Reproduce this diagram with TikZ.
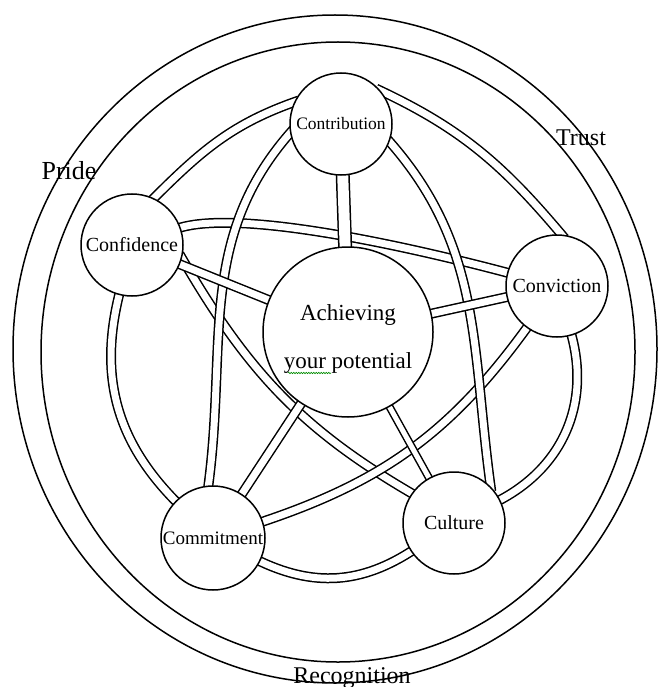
\documentclass[tikz,border=0pt]{standalone}
\usepackage{fontspec}
\setmainfont{Liberation Serif}
\usetikzlibrary{decorations.pathmorphing}
\pgfdeclarelayer{background}
\pgfsetlayers{background,main}

\begin{document}
\begin{tikzpicture}[x=1pt, y=1pt,
    ball/.style={draw, circle, fill=white, line width=1.5pt, inner sep=0pt,
        minimum size=102pt, font=\fontsize{20}{22}\selectfont},
    band/.style={draw, line width=1.5pt, double=white, double distance=7pt,
        shorten <=-5pt, shorten >=-5pt},
    wideband/.style={band, double distance=11pt},
    ringlabel/.style={anchor=base, font=\fontsize{24}{26}\selectfont}]
    \useasboundingbox (0,0) rectangle (658,-687);
    % Rings
    \draw[line width=1.5pt] (335,-349) ellipse [x radius=322, y radius=334];
    \draw[line width=1.5pt] (338,-352) ellipse [x radius=297, y radius=310];
    \node[ringlabel, font=\fontsize{26}{28}\selectfont] (pride) at (69,-179) {Pride};
    \node[ringlabel] (trust) at (581,-146) {Trust};
    \node[ringlabel] (recog) at (352,-683) {Recognition};
    % Circles
    \node[ball, minimum size=170pt, align=center, text height=72pt, text depth=0pt,
        font=\fontsize{23}{48}\selectfont] (ach) at (348,-332) {Achieving\\your potential};
    \node[ball, font=\fontsize{17.5}{20}\selectfont] (contr) at (341,-124) {Contribution};
    \node[ball] (conf) at (132,-245) {Confidence};
    \node[ball] (conv) at (557,-286) {Conviction};
    \node[ball, minimum size=104pt, font=\fontsize{19}{22}\selectfont] (comm) at (213,-538) {Commitment};
    \node[ball] (cult) at (454,-523) {Culture};
    \draw[green!55!black, line width=0.6pt, decorate,
        decoration={snake, amplitude=0.7pt, segment length=2.5pt}] (288,-373) -- (331,-373);
    \begin{pgfonlayer}{background}
        % Outer bands
        \draw[band] (contr.155) to[out=199, in=45] (conf.65);
        \draw[band] (contr.40) to[out=-25, in=130] (conv.85);
        \draw[band] (conv) to[bend left=40] (cult);
        \draw[band] (cult) to[bend left=30] (comm);
        \draw[band] (comm) to[bend left=30] (conf);
        % Star bands
        \draw[band] (conf) to[out=20, in=165, looseness=0.5] (conv);
        \draw[band] (conf.-15) to[out=-60, in=150] (cult.145);
        \draw[band] (conv) to[bend left=18] (comm);
        \draw[band] (contr.190) to[out=228, in=82] (comm.95);
        \draw[band] (contr.-20) to[out=-48, in=98] (cult.45);
        % Spokes
        \draw[wideband] (contr) -- (ach);
        \draw[band] (conf) -- (ach);
        \draw[band] (conv) -- (ach);
        \draw[band] (comm) -- (ach);
        \draw[band, double distance=5pt] (cult) -- (ach);
    \end{pgfonlayer}
\end{tikzpicture}
\end{document}
